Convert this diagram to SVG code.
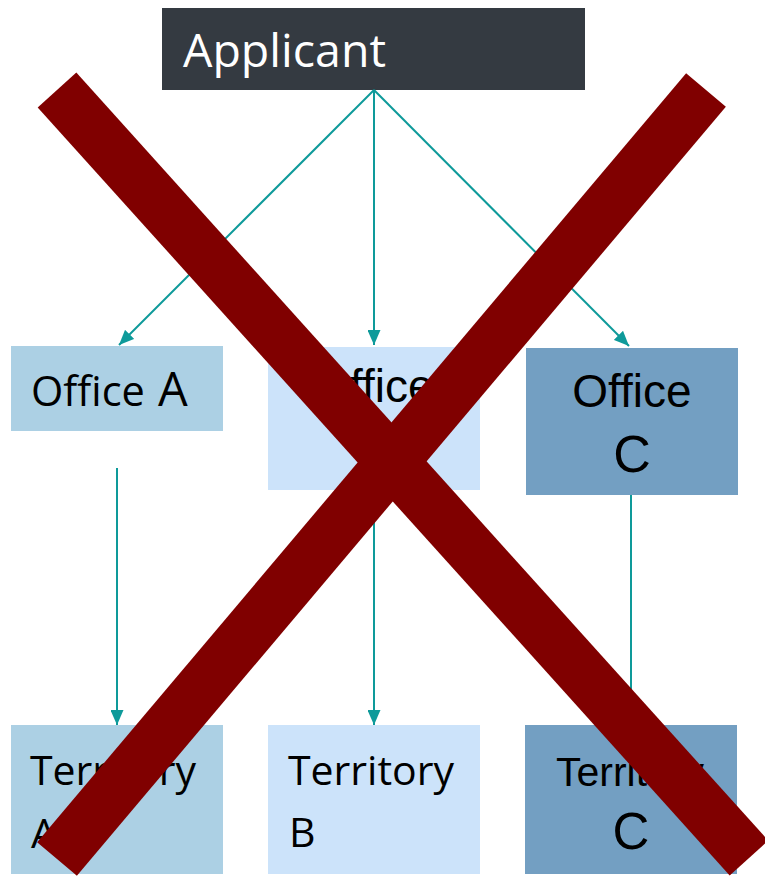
<svg xmlns="http://www.w3.org/2000/svg" width="765" height="876" viewBox="0 0 765 876">
<defs>
<style>
.cal{font-family:"Open Sans","Noto Sans",sans-serif;fill:#000}
.ari{font-family:"Liberation Sans",Arial,sans-serif;fill:#000}
.conn{stroke:#0e9a9a;stroke-width:2;fill:none;marker-end:url(#ah)}
.cross{stroke:#800000;stroke-width:52;stroke-linecap:butt}
.ca{fill:#acd0e4}
.cb{fill:#cce3fa}
.cc{fill:#739fc2}
</style>
<marker id="ah" markerUnits="userSpaceOnUse" markerWidth="15" markerHeight="13" refX="15" refY="6.5" orient="auto">
<path d="M0,0 L15,6.5 L0,13 z" fill="#0e9a9a"/>
</marker>
</defs>
<rect width="765" height="876" fill="#fff"/>
<g id="applicant">
<rect x="162" y="8" width="423" height="82" fill="#343a41"/>
<text x="183" y="67" class="cal" style="fill:#fff;font-size:46.5px">Applicant</text>
</g>
<g id="office-a">
<rect class="ca" x="11" y="346" width="212" height="85"/>
<text x="31" y="406" class="cal" font-size="41.5">Office <tspan x="158" font-size="47">A</tspan></text>
</g>
<g id="office-b">
<rect class="cb" x="268" y="347" width="212" height="143"/>
<text x="374" y="402" class="ari" font-size="46" text-anchor="middle">Office</text>
</g>
<g id="office-c">
<rect class="cc" x="526" y="348" width="212" height="147"/>
<text x="632" y="407" class="ari" font-size="46" text-anchor="middle">Office</text>
<text x="632" y="472" class="ari" font-size="52" text-anchor="middle">C</text>
</g>
<g id="territory-a">
<rect class="ca" x="11" y="725" width="212" height="149"/>
<text x="30" y="785" class="cal" font-size="41">Territory</text>
<text x="31" y="848" class="cal" font-size="41">A</text>
</g>
<g id="territory-b">
<rect class="cb" x="268" y="725" width="212" height="149"/>
<text x="288" y="785" class="cal" font-size="41">Territory</text>
<text x="289" y="847" class="cal" font-size="41">B</text>
</g>
<g id="territory-c">
<rect class="cc" x="525" y="725" width="212" height="149"/>
<text x="556" y="786" class="ari" font-size="41">Territory</text>
<text x="631" y="849" class="ari" font-size="51" text-anchor="middle">C</text>
</g>
<g id="connectors">
<line class="conn" x1="374" y1="90" x2="119" y2="345"/>
<line class="conn" x1="374" y1="90" x2="374" y2="345"/>
<line class="conn" x1="374" y1="90" x2="629" y2="346"/>
<line class="conn" x1="117" y1="468" x2="117" y2="725"/>
<line class="conn" x1="374" y1="490" x2="374" y2="725"/>
<line class="conn" x1="631" y1="495" x2="631" y2="725"/>
</g>
<g id="cross">
<line class="cross" x1="57" y1="90" x2="749" y2="858"/>
<line class="cross" x1="706" y1="90" x2="57" y2="859"/>
</g>
</svg>
